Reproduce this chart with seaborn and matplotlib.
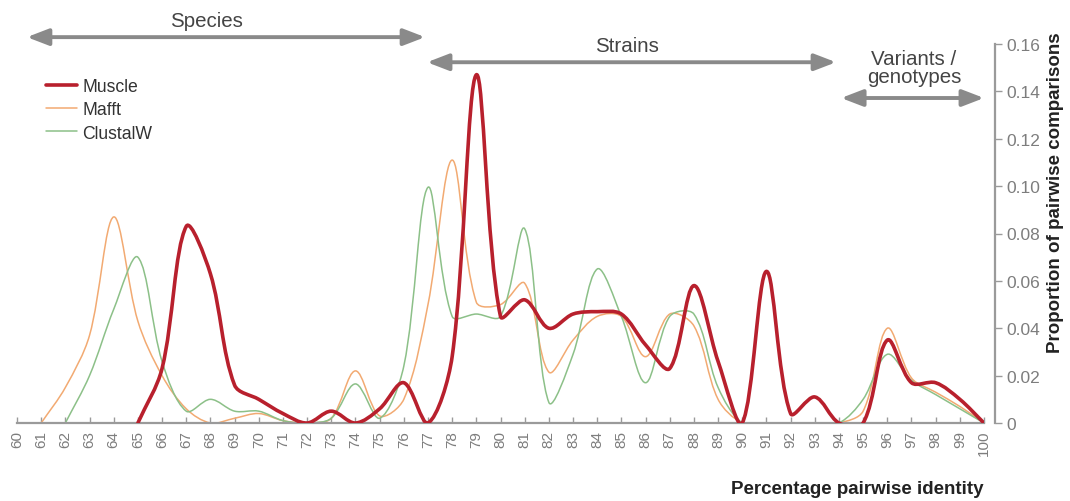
import numpy as np
import pandas as pd
import matplotlib
matplotlib.use("Agg")
import matplotlib.pyplot as plt
from matplotlib.path import Path
from matplotlib.transforms import IdentityTransform
from matplotlib import patheffects
import seaborn as sns

# Percentage pairwise identity (x) and proportion of pairwise comparisons per aligner
identity = list(range(60, 101))
nan = np.nan
muscle = [nan, nan, nan, nan, nan,
          0.000, 0.023, 0.083, 0.063, 0.016, 0.010, 0.004, 0.000, 0.005, 0.000,
          0.006, 0.017, 0.000, 0.028, 0.147, 0.045, 0.052, 0.040, 0.046, 0.047,
          0.046, 0.033, 0.023, 0.058, 0.026, 0.000, 0.064, 0.004, 0.011, 0.000,
          0.000, 0.035, 0.017, 0.017, 0.010, 0.000]
mafft = [nan,
         0.000, 0.015, 0.037, 0.087, 0.043, 0.020, 0.006, 0.000, 0.002, 0.004,
         0.001, 0.000, 0.002, 0.022, 0.003, 0.010, 0.050, 0.111, 0.051, 0.050,
         0.059, 0.0215, 0.035, 0.045, 0.045, 0.028, 0.046, 0.041, 0.010, 0.000,
         0.000, 0.000, 0.000, 0.000, 0.005, 0.040, 0.019, 0.013, 0.007, 0.000]
clustalw = [nan, nan,
            0.000, 0.020, 0.048, 0.070, 0.026, 0.005, 0.010, 0.005, 0.005,
            0.001, 0.000, 0.002, 0.0165, 0.002, 0.024, 0.0995, 0.045, 0.046, 0.045,
            0.082, 0.0087, 0.029, 0.065, 0.045, 0.017, 0.045, 0.046, 0.015, 0.000,
            0.000, 0.000, 0.000, 0.000, 0.010, 0.029, 0.018, 0.012, 0.006, 0.000]

methods = ["Muscle", "Mafft", "ClustalW"]
colors = {"Muscle": "#b8202d", "Mafft": "#f2aa72", "ClustalW": "#8cc088"}
widths = {"Muscle": 2.6, "Mafft": 1.1, "ClustalW": 1.1}

y_ticks = [0, 0.02, 0.04, 0.06, 0.08, 0.10, 0.12, 0.14, 0.16]
y_tick_labels = ["0", "0.02", "0.04", "0.06", "0.08", "0.10", "0.12", "0.14", "0.16"]

df = pd.concat([
    pd.DataFrame({"identity": identity, "proportion": vals, "method": name})
    for name, vals in zip(methods, [muscle, mafft, clustalw])
]).dropna()


class SmoothCurve(patheffects.AbstractPathEffect):
    """Render a polyline as a smooth Bezier curve through its vertices.

    Control points follow the neighbouring chord, split in proportion to the
    lengths of the adjacent segments (measured on screen), which keeps sharp
    changes of slope from overshooting.
    """

    def __init__(self, tension=1 / 3):
        super().__init__()
        self.tension = tension

    def draw_path(self, renderer, gc, tpath, affine, rgbFace=None):
        pts = affine.transform(tpath.vertices)
        n = len(pts)
        if n < 3:
            renderer.draw_path(gc, tpath, affine, rgbFace)
            return
        t = self.tension
        before = np.empty_like(pts)
        after = np.empty_like(pts)
        after[0] = pts[0] + (pts[1] - pts[0]) * t
        before[-1] = pts[-1] - (pts[-1] - pts[-2]) * t
        for i in range(1, n - 1):
            d01 = np.hypot(*(pts[i] - pts[i - 1]))
            d12 = np.hypot(*(pts[i + 1] - pts[i]))
            total = d01 + d12
            if total == 0:
                before[i] = after[i] = pts[i]
                continue
            chord = pts[i + 1] - pts[i - 1]
            before[i] = pts[i] - chord * (d01 / total) * t
            after[i] = pts[i] + chord * (d12 / total) * t
        verts = [pts[0]]
        codes = [Path.MOVETO]
        for i in range(n - 1):
            verts += [after[i], before[i + 1], pts[i + 1]]
            codes += [Path.CURVE4] * 3
        renderer.draw_path(gc, Path(np.asarray(verts), codes),
                           IdentityTransform(), rgbFace)


sns.set_theme(style="white")
plt.rcParams["font.family"] = ["Liberation Sans", "DejaVu Sans"]

W, H = 1070, 502
fig = plt.figure(figsize=(W / 100, H / 100), dpi=100)
ax = fig.add_axes([17 / W, 1 - 424 / H, (984 - 17) / W, (424 - 45) / H])

sns.lineplot(data=df, x="identity", y="proportion", hue="method", size="method",
             hue_order=methods, size_order=methods, palette=colors, sizes=widths,
             ax=ax)

for line in ax.lines:
    line.set_path_effects([SmoothCurve()])
    line.set_solid_joinstyle("round")
ax.lines[0].set_zorder(3)

ax.set_xlim(60, 100)
ax.set_ylim(0, 0.16)

# axes styling
sns.despine(ax=ax, left=True, top=True, right=False, bottom=False)
ax.spines["right"].set_position(("outward", 8))
for side in ("right", "bottom"):
    ax.spines[side].set_color("#9a9a9a")
    ax.spines[side].set_linewidth(1.6)

ax.set_xticks(identity)
ax.set_xticklabels([str(v) for v in identity], rotation=90)
ax.tick_params(axis="x", direction="in", length=4, width=1, color="#9a9a9a",
               labelcolor="#7d7d7d", labelsize=11, pad=5, bottom=True)
ax.yaxis.tick_right()
ax.set_yticks(y_ticks)
ax.set_yticklabels(y_tick_labels)
ax.tick_params(axis="y", direction="out", length=5, width=1, color="#9a9a9a",
               labelcolor="#7d7d7d", labelsize=12.5, pad=3, right=True, left=False)
ax.grid(False)

ax.yaxis.set_label_position("right")
ax.set_ylabel("Proportion of pairwise comparisons", fontsize=13.5,
              fontweight="bold", color="#222222")
ax.yaxis.set_label_coords((1047 - 17) / 967, (424 - 193) / 379)
ax.set_xlabel("Percentage pairwise identity", fontsize=13.5, fontweight="bold",
              color="#222222", loc="right")
ax.xaxis.label.set_verticalalignment("center")
ax.xaxis.set_label_coords(1.0, -(490 - 424) / 379)

# legend
sns.move_legend(ax, "upper left", bbox_to_anchor=(30 / W, 1 - 63 / H),
                bbox_transform=fig.transFigure, title=None, frameon=False,
                fontsize=12.7, handlelength=1.75, handletextpad=0.3,
                labelspacing=0.36)
for txt in ax.get_legend().get_texts():
    txt.set_color("#333333")

# range annotations above the plot
arrow_kw = dict(arrowstyle="<|-|>,head_length=0.65,head_width=0.25",
                color="#8a8a8a", lw=2.8, shrinkA=0, shrinkB=0,
                mutation_scale=20)
ranges = [
    ("Species", 60.41, 76.88, 0.1629, 67.85, 0.1700),
    ("Strains", 76.96, 93.88, 0.1523, 85.25, 0.1595),
]
for label, x0, x1, ya, xt, yt in ranges:
    ax.annotate("", xy=(x1, ya), xytext=(x0, ya), arrowprops=arrow_kw,
                annotation_clip=False, clip_on=False)
    ax.text(xt, yt, label, ha="center", va="center", fontsize=14.8,
            color="#444444", clip_on=False)

ax.annotate("", xy=(100.0, 0.1372), xytext=(94.09, 0.1372), arrowprops=arrow_kw,
            annotation_clip=False, clip_on=False)
ax.text(97.1, 0.1500, "Variants /\ngenotypes", ha="center", va="center",
        fontsize=14.8, color="#444444", linespacing=0.9, clip_on=False)

fig.savefig("out.png", dpi=100)
